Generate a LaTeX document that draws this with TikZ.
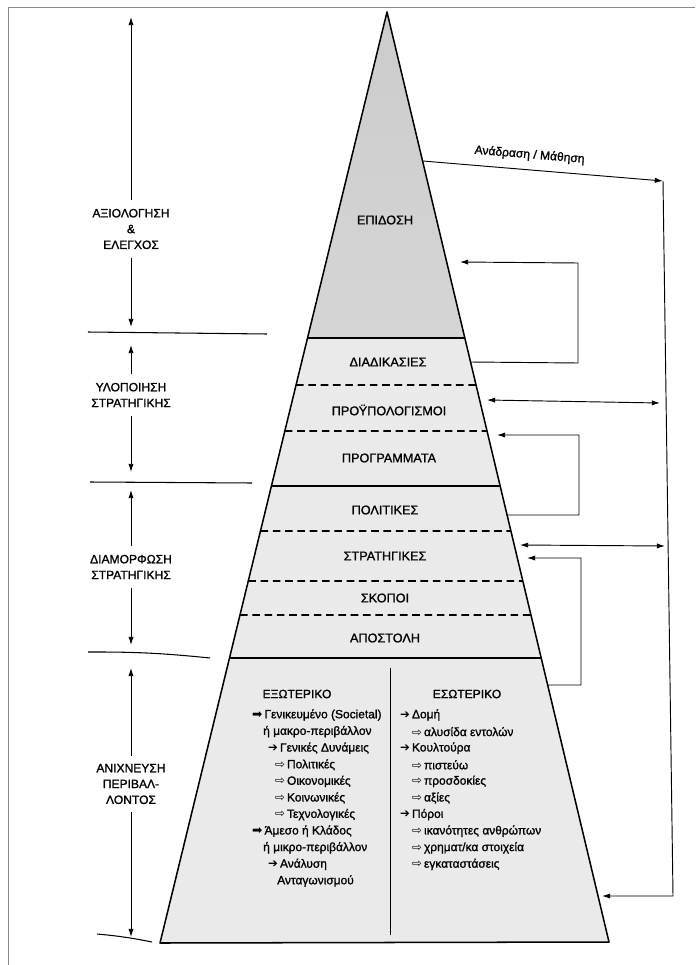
\documentclass[tikz,border=0pt]{standalone}
\usepackage{fontspec}
\setmainfont{Liberation Sans}[FakeBold=1.2]
\newfontfamily\symfont{DejaVu Sans}
\usepackage{tikz}
\usetikzlibrary{arrows.meta, calc}
\definecolor{pyrtop}{HTML}{D5D5D5}
\definecolor{pyrbody}{HTML}{EAEAEA}
\definecolor{framegray}{HTML}{8A8A8A}
% list bullets
\newcommand{\heavyarr}{{\symfont\fontsize{10.5}{10.5}\selectfont ➡}\,}
\newcommand{\widearr}{{\symfont\fontsize{10}{10}\selectfont ➔}\,}
\newcommand{\outarr}{{\symfont\fontsize{10}{10}\selectfont ⇨}\,}

\begin{document}
\begin{tikzpicture}[
  x=0.03cm, y=-0.03cm,
  every node/.style={font=\fontsize{10.3}{13.5}\selectfont, align=center},
  level/.style={inner sep=1pt, font=\fontsize{10.8}{13}\selectfont},
  phase/.style={inner xsep=1pt, inner ysep=7pt},
  item/.style={anchor=west, inner sep=0pt, font=\fontsize{10.2}{12}\selectfont},
  arr/.style={-{Latex[length=7pt,width=4.5pt]}, line width=0.8pt},
  dblarr/.style={{Latex[length=7pt,width=4.5pt]}-{Latex[length=7pt,width=4.5pt]}, line width=0.8pt},
  solidsep/.style={line width=1.3pt},
  dashsep/.style={line width=1.6pt, dash pattern=on 6.5pt off 4pt},
  sidesep/.style={line width=0.9pt}
]
\useasboundingbox (0,0) rectangle (695,965);
\fill[white] (0,0) rectangle (695,965);
\draw[framegray, line width=0.8pt] (8,965) -- (8,7) -- (695,7);

% pyramid
\coordinate (apex) at (387,12);
\coordinate (bl) at (160,943);
\coordinate (br) at (609,942);
\fill[pyrbody] (apex) -- (bl) -- (br) -- cycle;
\shade[top color=gray!40, bottom color=pyrtop] (apex) -- ($(apex)!{326/931}!(bl)$) -- ($(apex)!{326/930}!(br)$) -- cycle;
\foreach \y/\s in {338/solidsep, 385/dashsep, 431/dashsep, 486/solidsep,
                   531/dashsep, 581/dashsep, 615/dashsep, 658/solidsep}
  \draw[\s] ($(apex)!{(\y-12)/931}!(bl)$) -- ($(apex)!{(\y-12)/930}!(br)$);
\draw[line width=1.3pt, line join=round] (apex) -- (bl) -- (br) -- cycle;
\draw[line width=0.8pt] (390,668) -- (390,935);

\node[level] (perf)  at (385,220) {ΕΠΙΔΟΣΗ};
\node[level] (proc)  at (388,362) {ΔΙΑΔΙΚΑΣΙΕΣ};
\node[level] (budg)  at (389,410) {ΠΡΟΫΠΟΛΟΓΙΣΜΟΙ};
\node[level] (prog)  at (389,458) {ΠΡΟΓΡΑΜΜΑΤΑ};
\node[level] (pol)   at (385,510) {ΠΟΛΙΤΙΚΕΣ};
\node[level] (strat) at (385,556) {ΣΤΡΑΤΗΓΙΚΕΣ};
\node[level] (goals) at (385,598) {ΣΚΟΠΟΙ};
\node[level] (miss)  at (385,638) {ΑΠΟΣΤΟΛΗ};

% environment scan
\node (ext) at (297,694) {ΕΞΩΤΕΡΙΚΟ};
\node (int) at (467,694) {ΕΣΩΤΕΡΙΚΟ};
\foreach \x/\t [count=\i from 0] in {252/{\heavyarr Γενικευμένο (Societal)},
    263/{ή μακρο-περιβάλλον}, 268/{\widearr Γενικές Δυνάμεις},
    275/{\outarr Πολιτικές}, 275/{\outarr Οικονομικές},
    275/{\outarr Κοινωνικές}, 275/{\outarr Τεχνολογικές},
    252/{\heavyarr Άμεσο ή Κλάδος}, 263/{ή μικρο-περιβάλλον},
    268/{\widearr Ανάλυση}, 277/{Ανταγωνισμού}}
  \node[item] (ext\i) at (\x,715+16.6*\i) {\t};
\foreach \x/\t [count=\i from 0] in {400/{\widearr Δομή},
    412/{\outarr αλυσίδα εντολών}, 400/{\widearr Κουλτούρα},
    412/{\outarr πιστεύω}, 412/{\outarr προσδοκίες}, 412/{\outarr αξίες},
    400/{\widearr Πόροι}, 412/{\outarr ικανότητες ανθρώπων},
    412/{\outarr χρηματ/κα στοιχεία}, 412/{\outarr εγκαταστάσεις}}
  \node[item] (int\i) at (\x,715+16.6*\i) {\t};

% phases on the left
\node[phase] (eval) at (131,229) {ΑΞΙΟΛΟΓΗΣΗ\\\&\\ΕΛΕΓΧΟΣ};
\node[phase] (impl) at (131,395) {ΥΛΟΠΟΙΗΣΗ\\ΣΤΡΑΤΗΓΙΚΗΣ};
\node[phase] (form) at (131,567) {ΔΙΑΜΟΡΦΩΣΗ\\ΣΤΡΑΤΗΓΙΚΗΣ};
\node[phase] (scan) at (131,784) {ΑΝΙΧΝΕΥΣΗ\\ΠΕΡΙΒΑΛ-\\ΛΟΝΤΟΣ};
\coordinate (evalTop) at (131,17);  \coordinate (evalBot) at (131,327);
\coordinate (implTop) at (131,345); \coordinate (implBot) at (131,472);
\coordinate (formTop) at (131,490); \coordinate (formBot) at (131,645);
\coordinate (scanTop) at (131,668); \coordinate (scanBot) at (131,937);
\foreach \p in {eval, impl, form, scan} {
  \draw[arr] (\p) -- (\p Top);
  \draw[arr] (\p) -- (\p Bot);
}
\draw[sidesep] (88,332) -- (267,334);
\draw[sidesep] (90,482) -- (252,483);
\draw[sidesep] (88,652) to[bend left=3] (210,658);
\draw[sidesep] (97,934) to[bend left=3] (152,942);

% feedback loops on the right
\coordinate (fbOut) at ($(apex)!{149/930}!(br)$);
\coordinate (fbTop) at (663,181);
\coordinate (fbBot) at (673,896);
\coordinate (fbIn)  at (602,896);
\draw[arr] (fbOut) -- node[above=4pt, sloped, pos=0.44] {Ανάδραση / Μάθηση} (fbTop);
\draw[arr] (fbTop) -- (fbBot) -- (fbIn);

\coordinate (procOut) at ($(apex)!{350/930}!(br)$);
\coordinate (perfIn) at (460,262);
\draw[arr] (procOut) -- (578,363) -- (578,263) -- (perfIn);

\coordinate (budgL) at (487,400);
\coordinate (budgR) at (660,403);
\draw[dblarr] (budgL) -- (budgR);

\coordinate (polOut) at ($(apex)!{503/930}!(br)$);
\coordinate (progIn) at (497,435);
\draw[arr] (polOut) -- (579,515) -- (579,435) -- (progIn);

\coordinate (stratL) at (520,545);
\coordinate (stratR) at (665,546);
\draw[dblarr] (stratL) -- (stratR);

\coordinate (scanOut) at ($(apex)!{673/930}!(br)$);
\coordinate (stratIn) at (527,558);
\draw[arr] (scanOut) -- (581,685) -- (581,558) -- (stratIn);
\end{tikzpicture}
\end{document}
